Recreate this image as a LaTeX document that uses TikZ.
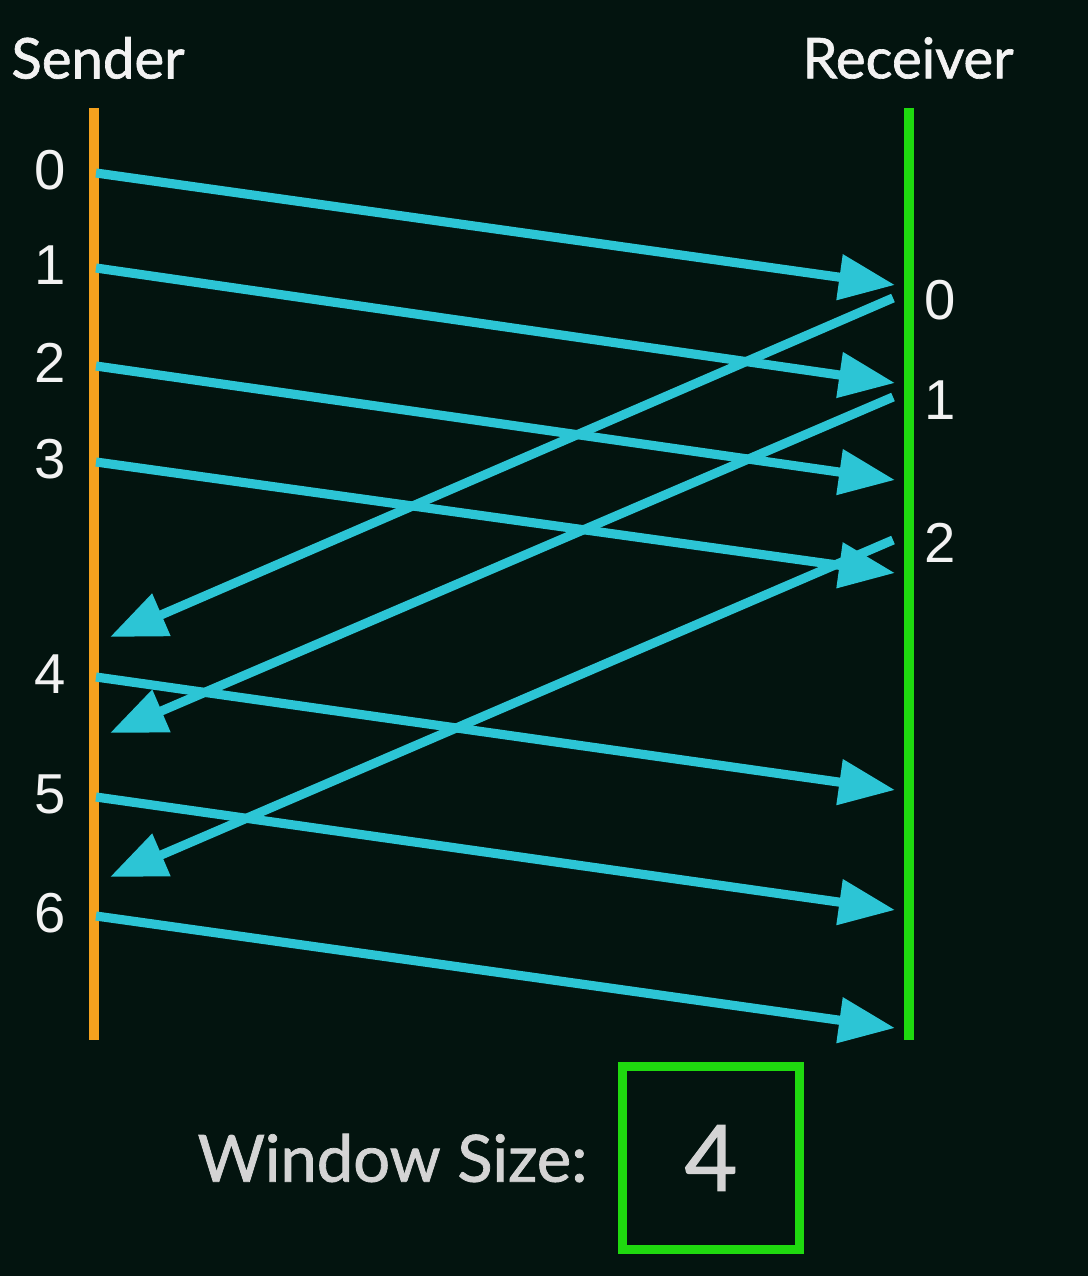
\documentclass[tikz,border=0pt]{standalone}
\usepackage{fontspec}
\setmainfont{Liberation Sans}
\newfontfamily\roundfont[FakeBold=1.2]{Lato}
\usetikzlibrary{arrows.meta,positioning}
\definecolor{bgdark}{HTML}{03140F}
\definecolor{packet}{HTML}{2CC5D5}
\definecolor{sendline}{HTML}{F5A21E}
\definecolor{recvline}{HTML}{1FD90F}
\definecolor{softwhite}{HTML}{F2F2F2}
\definecolor{softgray}{HTML}{D4D4D4}
\tikzset{>={Triangle[length=5.6mm,width=4.4mm]},
  every node/.style={text=softwhite},
  title/.style={font=\roundfont\fontsize{16}{19}\selectfont},
  seqno/.style={font=\fontsize{16}{19}\selectfont},
  timeline/.style={line width=2.6pt},
  pkt/.style={->,draw=packet,line width=2.6pt},
  ack/.style={->,draw=packet,line width=2.6pt},
  winbox/.style={draw=recvline,line width=2.5pt,minimum width=1.77cm,minimum height=1.83cm,
    text=softgray,font=\roundfont\fontsize{26}{30}\selectfont}}
\begin{document}
\begin{tikzpicture}[x=.01cm,y=-.01cm]
\fill[bgdark](0,0)rectangle(1088,1276);\useasboundingbox(0,0)rectangle(1088,1276);
% time lines
\coordinate(stop)at(94,108);\coordinate(sbot)at(94,1040);
\coordinate(rtop)at(909,108);\coordinate(rbot)at(909,1040);
\draw[timeline,sendline](stop)--(sbot);\draw[timeline,recvline](rtop)--(rbot);
\node[title](sender)at(98,58){Sender};\node[title](receiver)at(908,58){Receiver};
% frames sent
\foreach \i/\ys/\yr in {0/173/285,1/268/383,2/366/480,3/462/573,4/677/790,5/797/910,6/916/1028}{
  \node[seqno](n\i)at(50,\ys-3){\i};
  \coordinate(s\i)at(96,\ys);\coordinate(d\i)at(895,\yr);
  \draw[pkt](s\i)--(d\i);}
% acknowledgements
\foreach \i/\yr/\ys in {0/298/637,1/397/733,2/540/877}{
  \coordinate(a\i)at(893,\yr);\coordinate(b\i)at(110,\ys);
  \draw[ack](a\i)--(b\i);}
\node[seqno](m0)at(940,300){0};\node[seqno](m1)at(940,400){1};\node[seqno](m2)at(940,543){2};
% window size
\node[winbox](wbox)at(711,1158){4};
\node[left=3mm of wbox,inner sep=0,text=softgray,font=\roundfont\fontsize{18.5}{22}\selectfont](wlabel){Window Size:};
\end{tikzpicture}
\end{document}
